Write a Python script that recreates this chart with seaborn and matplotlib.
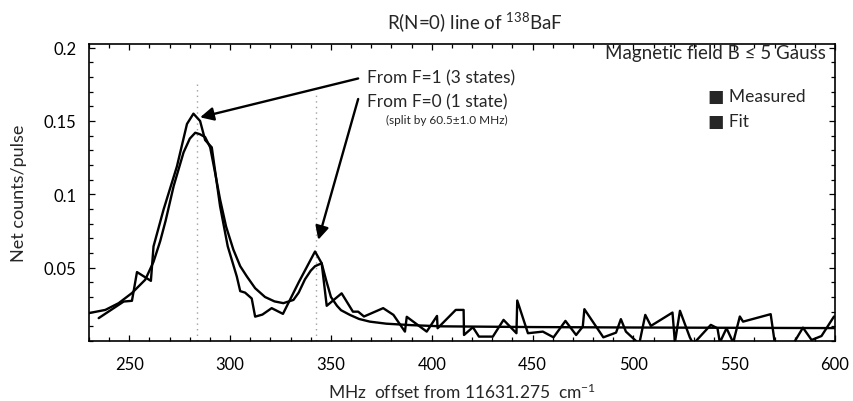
import matplotlib
matplotlib.use("Agg")
import matplotlib.pyplot as plt
import seaborn as sns
import pandas as pd
from matplotlib.ticker import MultipleLocator

# ---------------- data ----------------
meas_x = [234.8, 247.2, 251.3, 253.8, 260.7, 262.0, 267.0, 273.6, 278.6, 281.8,
          285.1, 287.6, 290.9, 295.0, 298.8, 303.3, 305.0, 307.4, 310.7, 312.4,
          316.0, 320.6, 326.2, 334.0, 342.1, 345.4, 347.9, 355.3, 360.9, 363.5,
          366.4, 375.9, 381.0, 386.7, 387.6, 397.5, 402.6, 402.9, 411.9, 415.8,
          416.0, 420.4, 423.4, 430.3, 435.6, 442.0, 442.4, 447.7, 455.1, 460.4,
          466.3, 471.6, 474.9, 475.7, 485.1, 491.4, 493.8, 496.3, 502.9, 505.9,
          508.7, 519.4, 520.6, 523.1, 528.0, 529.7, 538.4, 541.7, 542.9, 546.2,
          549.5, 552.8, 554.4, 568.1, 570.1, 579.7, 584.1, 588.4, 593.3, 599.5]
meas_y = [0.0156, 0.0269, 0.0274, 0.047, 0.041, 0.0645, 0.0897, 0.119, 0.148, 0.155,
          0.150, 0.137, 0.132, 0.092, 0.0646, 0.044, 0.034, 0.033, 0.029, 0.0166,
          0.018, 0.0224, 0.0185, 0.040, 0.061, 0.053, 0.024, 0.0325, 0.020, 0.020,
          0.0167, 0.0224, 0.0178, 0.0064, 0.0165, 0.0064, 0.0171, 0.0087, 0.0212, 0.0212,
          0.0041, 0.0094, 0.003, 0.003, 0.0144, 0.0053, 0.0276, 0.0053, 0.0064, 0.0025,
          0.0137, 0.0041, 0.0098, 0.0217, 0.0025, 0.0057, 0.0149, 0.0064, -0.002, 0.0178,
          0.0103, 0.0194, -0.001, 0.0206, 0.0025, -0.002, 0.011, 0.0087, -0.001, 0.0087,
          -0.001, 0.0167, 0.0132, 0.0183, -0.001, -0.001, 0.0091, 0.0007, 0.0034, 0.0167]

fit_x = [229.9, 238.1, 244.7, 251.3, 257.9, 262.0, 265.3, 268.0, 272.0, 276.9,
         280.0, 282.7, 285.0, 287.6, 290.1, 292.5, 295.0, 298.0, 301.6, 305.0,
         308.3, 312.4, 317.3, 322.0, 326.4, 331.4, 334.0, 337.1, 340.0, 342.1,
         345.4, 347.5, 350.0, 353.0, 355.0, 359.4, 364.0, 369.3, 377.5, 390.0,
         405.0, 450.0, 500.0, 550.0, 600.0]
fit_y = [0.019, 0.0212, 0.0258, 0.0327, 0.0418, 0.054, 0.068, 0.082, 0.1057, 0.1286,
         0.138, 0.142, 0.141, 0.139, 0.132, 0.115, 0.0966, 0.078, 0.0623, 0.051,
         0.044, 0.036, 0.030, 0.027, 0.0258, 0.028, 0.033, 0.042, 0.048, 0.051,
         0.053, 0.042, 0.030, 0.024, 0.021, 0.0178, 0.015, 0.0132, 0.0118, 0.0108,
         0.0100, 0.0095, 0.0092, 0.0090, 0.0088]

peak_x = [283.4, 342.6]
peak_top = [0.175, 0.170]

x_ticks = [250, 300, 350, 400, 450, 500, 550, 600]
y_ticks = [0.05, 0.1, 0.15, 0.2]
y_ticklabels = ["0.05", "0.1", "0.15", "0.2"]

# ---------------- style ----------------
sns.set_style("ticks")
plt.rcParams["font.family"] = ["Lato", "DejaVu Sans"]
plt.rcParams["mathtext.fontset"] = "custom"
plt.rcParams["mathtext.rm"] = "Lato"
plt.rcParams["mathtext.it"] = "Lato:italic"
plt.rcParams["mathtext.bf"] = "Lato:bold"

fig = plt.figure(figsize=(8.54, 4.02), dpi=100)
ax = fig.add_axes([89 / 854, 1 - 342 / 402, (835 - 89) / 854, (342 - 45) / 402])

meas = pd.DataFrame({"x": meas_x, "y": meas_y})
fit = pd.DataFrame({"x": fit_x, "y": fit_y})

ax.vlines(peak_x, 0, peak_top, colors="#a0a0a0", linestyles=(0, (1, 3)), lw=1.0, zorder=1)
sns.lineplot(data=meas, x="x", y="y", ax=ax, color="black", lw=1.7, sort=False,
             estimator=None, zorder=3)
sns.lineplot(data=fit, x="x", y="y", ax=ax, color="black", lw=1.7, sort=False,
             estimator=None, zorder=3)

ax.set_xlim(230, 600)
ax.set_ylim(0, 0.2025)
ax.set_xticks(x_ticks)
ax.set_xticklabels([str(t) for t in x_ticks])
ax.set_yticks(y_ticks)
ax.set_yticklabels(y_ticklabels)
ax.xaxis.set_minor_locator(MultipleLocator(10))
ax.yaxis.set_minor_locator(MultipleLocator(0.01))
ax.tick_params(which="both", direction="in", top=True, right=True, width=0.9,
               colors="black", labelsize=12)
ax.tick_params(which="major", length=4)
ax.tick_params(which="minor", length=2.6)
ax.tick_params(axis="x", which="major", pad=11)
ax.tick_params(axis="y", which="major", pad=9)
for s in ax.spines.values():
    s.set_visible(True)
    s.set_linewidth(1.2)
    s.set_color("black")

ax.set_xlabel("")
ax.set_ylabel("Net counts/pulse", fontsize=13, labelpad=12)
fig.text(462 / 854, 1 - 392 / 402, "MHz  offset from 11631.275  cm$^{-1}$",
         ha="center", va="center", fontsize=12.5)
fig.text(475 / 854, 1 - 22 / 402, "R(N=0) line of $^{\\mathrm{138}}$BaF",
         ha="center", va="center", fontsize=13.5)

# annotations
ax.annotate("", xy=(285.1, 0.1525), xytext=(363.5, 0.179),
            arrowprops=dict(arrowstyle="-|>", color="black", lw=1.7,
                            mutation_scale=20, shrinkA=0, shrinkB=0))
ax.annotate("", xy=(343.7, 0.069), xytext=(363.5, 0.165),
            arrowprops=dict(arrowstyle="-|>", color="black", lw=1.7,
                            mutation_scale=20, shrinkA=0, shrinkB=0))
ax.text(367.8, 0.180, "From F=1 (3 states)", ha="left", va="center", fontsize=12.5)
ax.text(367.8, 0.1637, "From F=0 (1 state)", ha="left", va="center", fontsize=12.5)
ax.text(377.2, 0.1507, "(split by 60.5\u00b11.0 MHz)", ha="left", va="center", fontsize=8.5)

fig.text(826 / 854, 1 - 53 / 402, "Magnetic field B \u2264 5 Gauss",
         ha="right", va="center", fontsize=13.5)
fig.text(708 / 854, 1 - 97 / 402, "\u25a0 Measured", ha="left", va="center", fontsize=12.5)
fig.text(708 / 854, 1 - 122 / 402, "\u25a0 Fit", ha="left", va="center", fontsize=12.5)

fig.savefig("out.png", dpi=100)
